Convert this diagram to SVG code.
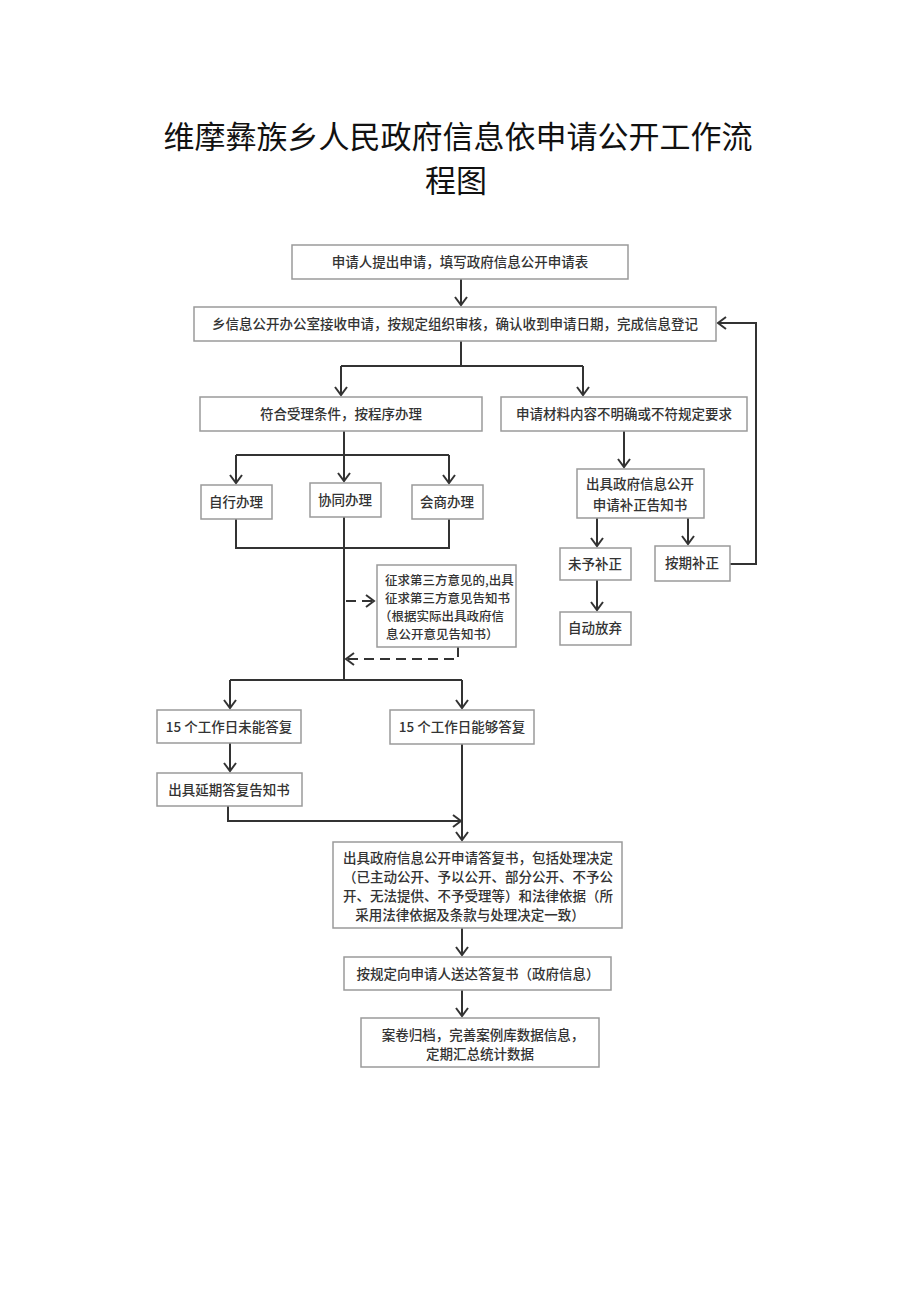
<svg xmlns="http://www.w3.org/2000/svg" width="920" height="1301" viewBox="0 0 920 1301">
<defs>
<marker id="ah" markerWidth="14" markerHeight="14" refX="12" refY="7" orient="auto" markerUnits="userSpaceOnUse" viewBox="0 0 14 14">
<path d="M4,1 L12,7 L4,13" fill="none" stroke="#333" stroke-width="2"/>
</marker>
</defs>
<style>
.bx{fill:#fff;stroke:#9a9a9a;stroke-width:1.5}
.t{font-family:"Noto Sans CJK SC","Liberation Sans",sans-serif;font-size:13.5px;fill:#333;text-anchor:middle;font-weight:500}
.s{font-family:"Noto Sans CJK SC","Liberation Sans",sans-serif;font-size:12.5px;fill:#333;font-weight:500}
.title{font-family:"Noto Sans CJK SC","Liberation Sans",sans-serif;font-size:31px;fill:#111;text-anchor:middle}
.ln{fill:none;stroke:#333;stroke-width:2}
.arr{fill:none;stroke:#333;stroke-width:2;marker-end:url(#ah)}
.dsh{fill:none;stroke:#333;stroke-width:2;stroke-dasharray:10,6;marker-end:url(#ah)}
</style>
<rect width="920" height="1301" fill="#fff"/>
<g id="title">
<text class="title" x="458" y="148">维摩彝族乡人民政府信息依申请公开工作流</text>
<text class="title" x="456" y="192">程图</text>
</g>
<g id="connectors">
<path class="arr" d="M461,279 V305"/>
<path class="ln" d="M461,341 V366 M341,366 H583"/>
<path class="arr" d="M341,366 V395"/>
<path class="arr" d="M583,366 V395"/>
<path class="ln" d="M344,431 V455 M236,455 H449"/>
<path class="arr" d="M236,455 V483"/>
<path class="arr" d="M344,455 V481"/>
<path class="arr" d="M449,455 V483"/>
<path class="ln" d="M236,519 V548 H449 V519"/>
<path class="ln" d="M344,517 V680 M230,680 H462"/>
<path class="dsh" d="M346,601 H374"/>
<path class="dsh" d="M458,647 V659 H346"/>
<path class="arr" d="M230,680 V708"/>
<path class="arr" d="M462,680 V708"/>
<path class="arr" d="M230,743 V771"/>
<path class="arr" d="M228,806 V821 H461"/>
<path class="arr" d="M462,744 V840"/>
<path class="arr" d="M462,928 V955"/>
<path class="arr" d="M462,990 V1016"/>
<path class="arr" d="M624,431 V467"/>
<path class="arr" d="M597,518 V546"/>
<path class="arr" d="M688,518 V544"/>
<path class="arr" d="M597,580 V610"/>
<path class="arr" d="M730,564 H756 V323 H718"/>
</g>
<g id="n1"><rect class="bx" x="292" y="245" width="336" height="34"/><text class="t" x="460" y="267">申请人提出申请，填写政府信息公开申请表</text></g>
<g id="n2"><rect class="bx" x="194" y="307" width="522" height="34"/><text class="t" x="455" y="329">乡信息公开办公室接收申请，按规定组织审核，确认收到申请日期，完成信息登记</text></g>
<g id="n3"><rect class="bx" x="200" y="397" width="282" height="34"/><text class="t" x="341" y="419">符合受理条件，按程序办理</text></g>
<g id="n4"><rect class="bx" x="501" y="397" width="246" height="34"/><text class="t" x="624" y="419">申请材料内容不明确或不符规定要求</text></g>
<g id="n5"><rect class="bx" x="201" y="485" width="71" height="34"/><text class="t" x="236" y="507">自行办理</text></g>
<g id="n6"><rect class="bx" x="310" y="483" width="71" height="34"/><text class="t" x="345" y="505">协同办理</text></g>
<g id="n7"><rect class="bx" x="412" y="485" width="71" height="34"/><text class="t" x="447" y="507">会商办理</text></g>
<g id="n8"><rect class="bx" x="577" y="469" width="127" height="49"/><text class="t" x="640" y="489">出具政府信息公开</text><text class="t" x="640" y="510">申请补正告知书</text></g>
<g id="n9"><rect class="bx" x="560" y="548" width="71" height="32"/><text class="t" x="595" y="569">未予补正</text></g>
<g id="n10"><rect class="bx" x="655" y="546" width="75" height="35"/><text class="t" x="692" y="568">按期补正</text></g>
<g id="n11"><rect class="bx" x="560" y="612" width="71" height="33"/><text class="t" x="595" y="633">自动放弃</text></g>
<g id="n12"><rect class="bx" x="377" y="565" width="139" height="82"/>
<text class="s" x="385" y="585">征求第三方意见的,出具</text>
<text class="s" x="385" y="603">征求第三方意见告知书</text>
<text class="s" x="379" y="621">（根据实际出具政府信</text>
<text class="s" x="386" y="639">息公开意见告知书）</text></g>
<g id="n13"><rect class="bx" x="157" y="710" width="144" height="33"/><text class="t" x="229" y="732">15 个工作日未能答复</text></g>
<g id="n14"><rect class="bx" x="390" y="710" width="144" height="34"/><text class="t" x="462" y="732">15 个工作日能够答复</text></g>
<g id="n15"><rect class="bx" x="157" y="773" width="145" height="33"/><text class="t" x="229" y="795">出具延期答复告知书</text></g>
<g id="n16"><rect class="bx" x="333" y="842" width="289" height="86"/>
<text class="t" x="478" y="863">出具政府信息公开申请答复书，包括处理决定</text>
<text class="t" x="478" y="882">（已主动公开、予以公开、部分公开、不予公</text>
<text class="t" x="478" y="901">开、无法提供、不予受理等）和法律依据（所</text>
<text class="t" x="470" y="920">采用法律依据及条款与处理决定一致）</text></g>
<g id="n17"><rect class="bx" x="344" y="957" width="267" height="33"/><text class="t" x="478" y="979">按规定向申请人送达答复书（政府信息）</text></g>
<g id="n18"><rect class="bx" x="361" y="1018" width="238" height="49"/><text class="t" x="483" y="1040">案卷归档，完善案例库数据信息，</text><text class="t" x="480" y="1059">定期汇总统计数据</text></g>
</svg>
